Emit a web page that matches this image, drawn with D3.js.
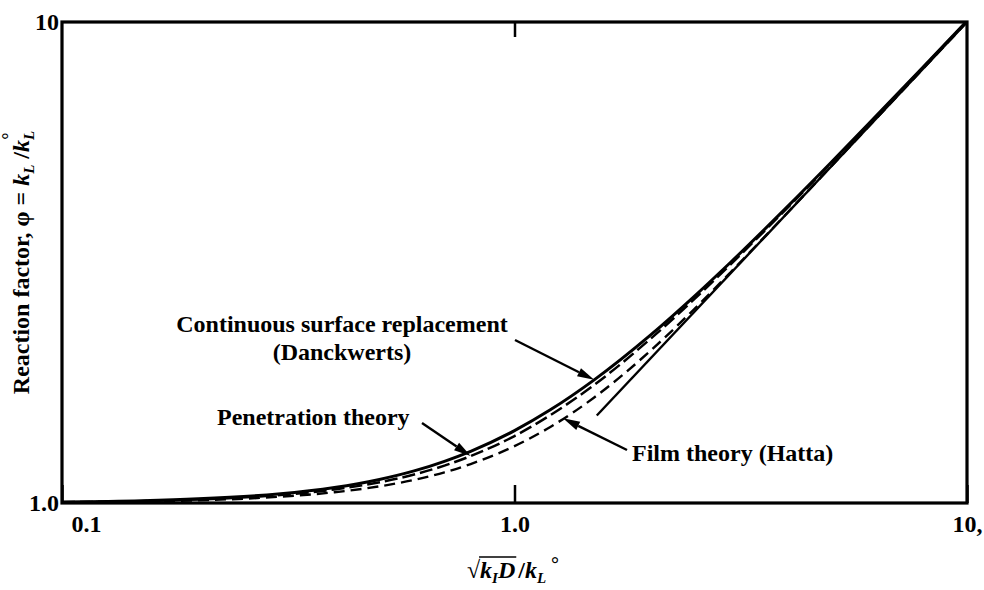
<!DOCTYPE html>
<html>
<head>
<meta charset="utf-8">
<script src="https://cdn.jsdelivr.net/npm/d3@7/dist/d3.min.js"></script>
<style>
  body { margin: 0; background: #fff; }
  svg { display: block; font-family: "Liberation Serif", "Times New Roman", serif; font-weight: bold; }
</style>
</head>
<body>
<svg id="chart" width="984" height="590"></svg>
<script>
// reaction factor phi, at sqrt(kD)/kL values in ha
const ha          = [0.1, 0.15, 0.2, 0.3, 0.4, 0.5, 0.6, 0.7, 0.8, 1.0, 1.2, 1.5, 2, 2.5, 3, 4, 5, 6, 8, 10];
const film        = [1.003, 1.008, 1.013, 1.030, 1.053, 1.082, 1.117, 1.158, 1.205, 1.313, 1.439, 1.657, 2.075, 2.534, 3.015, 4.003, 5.000, 6.000, 8.000, 10.000];
const penetration = [1.004, 1.009, 1.017, 1.038, 1.067, 1.103, 1.146, 1.196, 1.252, 1.378, 1.523, 1.760, 2.196, 2.657, 3.131, 4.098, 5.079, 6.065, 8.049, 10.039];
const danckwerts  = [1.005, 1.011, 1.020, 1.044, 1.077, 1.118, 1.166, 1.221, 1.281, 1.414, 1.562, 1.803, 2.236, 2.693, 3.162, 4.123, 5.099, 6.083, 8.062, 10.050];
// straight asymptote phi = Ha
const asymptote   = [[1.52, 1.52], [10, 10]];

const xTicks = [0.1, 1, 10];
const xTickLabels = ["0.1", "1.0", "10,"];
const yTicks = [1, 10];
const yTickLabels = ["1.0", "10"];

const W = 984, H = 590;
const m = { left: 62, right: 17, top: 22, bottom: 87 };

const x = d3.scaleLog().domain([0.1, 10]).range([m.left, W - m.right]);
const y = d3.scaleLog().domain([1, 10]).range([H - m.bottom, m.top]);

const svg = d3.select("#chart");
svg.append("rect").attr("width", W).attr("height", H).attr("fill", "#fff");

svg.append("clipPath").attr("id", "plot")
  .append("rect")
  .attr("x", m.left).attr("y", m.top)
  .attr("width", W - m.left - m.right).attr("height", H - m.top - m.bottom);

// curves
const line = d3.line()
  .x(d => x(d[0]))
  .y(d => y(d[1]))
  .curve(d3.curveMonotoneX);

const series = [
  { values: danckwerts, width: 3, dash: null },
  { values: penetration, width: 2.5, dash: "13,5" },
  { values: film, width: 2.4, dash: "11,6" }
];

const curves = svg.append("g").attr("clip-path", "url(#plot)").attr("fill", "none").attr("stroke", "#000");
curves.selectAll("path.curve")
  .data(series)
  .join("path")
  .attr("class", "curve")
  .attr("d", s => line(ha.map((h, i) => [h, s.values[i]])))
  .attr("stroke-width", s => s.width)
  .attr("stroke-dasharray", s => s.dash)
  .attr("stroke-linecap", "butt");

curves.append("path")
  .attr("d", d3.line().x(d => x(d[0])).y(d => y(d[1]))(asymptote))
  .attr("stroke-width", 2.4);

// frame
svg.append("rect")
  .attr("x", m.left).attr("y", m.top)
  .attr("width", W - m.left - m.right).attr("height", H - m.top - m.bottom)
  .attr("fill", "none").attr("stroke", "#000").attr("stroke-width", 3.2);

// axes
const gx = svg.append("g")
  .attr("transform", `translate(0,${H - m.bottom})`)
  .call(d3.axisBottom(x).tickValues(xTicks).tickSizeInner(-18).tickSizeOuter(0)
    .tickPadding(12).tickFormat((d, i) => xTickLabels[i]));
gx.select(".domain").remove();
gx.selectAll("line").attr("stroke-width", 2.5);
gx.selectAll("text")
  .style("font-size", "24px")
  .attr("text-anchor", (d, i) => i === 0 ? "start" : "middle")
  .attr("dx", (d, i) => i === 0 ? 9 : 0);
gx.attr("font-family", null).attr("font-size", null);

const gxTop = svg.append("g")
  .attr("transform", `translate(0,${m.top})`)
  .call(d3.axisTop(x).tickValues([1]).tickSizeInner(-15).tickSizeOuter(0).tickFormat(""));
gxTop.select(".domain").remove();
gxTop.selectAll("line").attr("stroke-width", 2.5);

const gy = svg.append("g")
  .attr("transform", `translate(${m.left},0)`)
  .call(d3.axisLeft(y).tickValues(yTicks).tickSize(0).tickPadding(3)
    .tickFormat((d, i) => yTickLabels[i]));
gy.select(".domain").remove();
gy.attr("font-family", null).attr("font-size", null);
gy.selectAll("text").style("font-size", "24px");

// annotations with arrows
const notes = [
  { lines: ["Continuous surface replacement", "(Danckwerts)"], tx: 342, ty: 332, anchor: "middle",
    tail: [515, 340], tip: [1.5, 1.803] },
  { lines: ["Penetration theory"], tx: 217, ty: 425, anchor: "start",
    tail: [422, 423], tip: [0.8, 1.252] },
  { lines: ["Film theory (Hatta)"], tx: 632, ty: 461, anchor: "start",
    tail: [627, 450], tip: [1.28, 1.50] }
];

const ann = svg.append("g");
notes.forEach(n => {
  const t = ann.append("text")
    .attr("x", n.tx).attr("y", n.ty)
    .attr("text-anchor", n.anchor)
    .style("font-size", "24px");
  n.lines.forEach((s, i) => {
    t.append("tspan").attr("x", n.tx).attr("dy", i === 0 ? 0 : 28).text(s);
  });

  const px = x(n.tip[0]), py = y(n.tip[1]);
  const dx = px - n.tail[0], dy = py - n.tail[1];
  const len = Math.hypot(dx, dy), ux = dx / len, uy = dy / len;
  const headLen = 17, headW = 4.5;
  const bx = px - ux * headLen, by = py - uy * headLen;
  ann.append("line")
    .attr("x1", n.tail[0]).attr("y1", n.tail[1])
    .attr("x2", bx).attr("y2", by)
    .attr("stroke", "#000").attr("stroke-width", 2.4);
  ann.append("path")
    .attr("d", `M${px},${py}L${bx - uy * headW},${by + ux * headW}L${bx + uy * headW},${by - ux * headW}Z`)
    .attr("fill", "#000");
});

// x-axis title: sqrt(k_I D) / k_L°
const xt = svg.append("text")
  .attr("x", 513).attr("y", 578)
  .attr("text-anchor", "middle")
  .style("font-size", "24px");
xt.append("tspan").text("\u221A");
xt.append("tspan").style("font-style", "italic").text("k");
xt.append("tspan").style("font-style", "italic").style("font-size", "15px").attr("dy", 5).text("I");
xt.append("tspan").style("font-style", "italic").attr("dy", -5).text("D");
xt.append("tspan").attr("dx", 3).text("/");
xt.append("tspan").style("font-style", "italic").text("k");
xt.append("tspan").style("font-style", "italic").style("font-size", "15px").attr("dy", 5).text("L");
xt.append("tspan").attr("dx", 5).attr("dy", -12).style("font-size", "20px").text("\u00B0");

const xn = xt.node();
const c0 = xn.getExtentOfChar(0), c3 = xn.getExtentOfChar(3);
svg.append("line")
  .attr("x1", c0.x + c0.width - 1).attr("x2", c3.x + c3.width + 1)
  .attr("y1", 557).attr("y2", 557)
  .attr("stroke", "#000").attr("stroke-width", 1.6);

// y-axis title
const yt = svg.append("text")
  .attr("transform", `translate(29,${(m.top + H - m.bottom) / 2}) rotate(-90)`)
  .attr("text-anchor", "middle")
  .style("font-size", "24px");
yt.append("tspan").text("Reaction factor, \u03C6 = ");
yt.append("tspan").style("font-style", "italic").text("k");
yt.append("tspan").style("font-style", "italic").style("font-size", "15px").attr("dy", 5).text("L");
yt.append("tspan").attr("dy", -5).text(" /");
yt.append("tspan").style("font-style", "italic").text("k");
yt.append("tspan").style("font-style", "italic").style("font-size", "15px").attr("dy", 5).text("L");
yt.append("tspan").attr("dx", -9).attr("dy", -19).style("font-size", "18px").text("\u00B0");
</script>
</body>
</html>
